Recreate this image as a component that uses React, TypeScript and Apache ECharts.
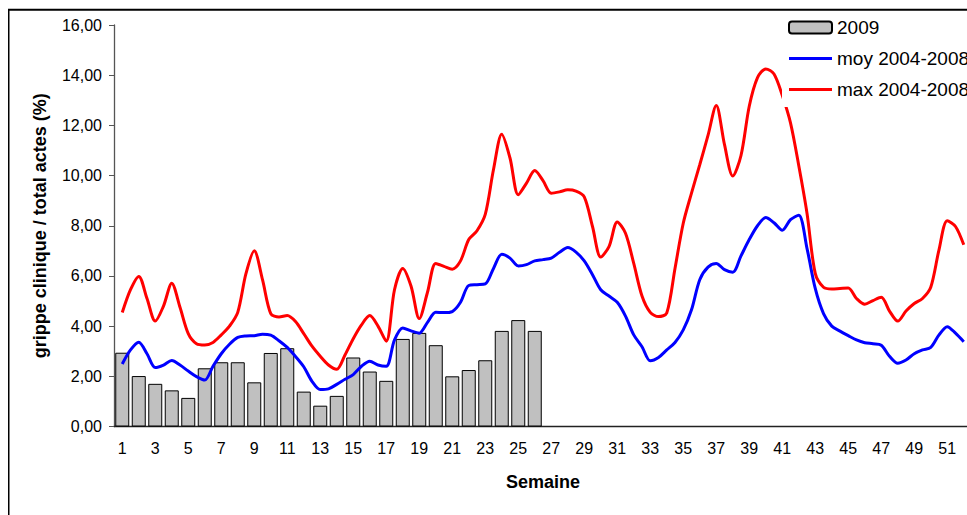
import React, { useEffect, useRef } from "react";
import * as echarts from "echarts";

const weekLabels = Array.from({ length: 52 }, (_, i) => String(i + 1));

const bars2009 = [
  2.94, 2.01, 1.7, 1.44, 1.14, 2.32, 2.56, 2.56, 1.76, 2.93, 3.12, 1.39, 0.83,
  1.22, 2.75, 2.19, 1.82, 3.49, 3.73, 3.24, 2.0, 2.25, 2.64, 3.81, 4.24, 3.81,
];

// half-week resolution, weeks 1, 1.5, 2, ... 52
const moy = [
  2.49, 3.05, 3.36, 2.9, 2.35, 2.45, 2.63, 2.45, 2.21, 1.99,
  1.85, 2.4, 2.9, 3.28, 3.55, 3.61, 3.62, 3.68, 3.64, 3.42,
  3.15, 2.79, 2.38, 1.8, 1.47, 1.5, 1.68, 1.88, 2.07, 2.4,
  2.6, 2.45, 2.4, 3.45, 3.93, 3.81, 3.72, 4.15, 4.55, 4.54,
  4.58, 4.95, 5.62, 5.65, 5.68, 6.3, 6.86, 6.71, 6.4, 6.45,
  6.6, 6.65, 6.71, 6.94, 7.13, 6.95, 6.6, 6.05, 5.45, 5.2,
  4.95, 4.4, 3.65, 3.18, 2.62, 2.75, 3.05, 3.35, 3.85, 4.65,
  5.85, 6.35, 6.5, 6.25, 6.15, 6.8, 7.45, 8.0, 8.33, 8.12,
  7.82, 8.24, 8.42, 7.1, 5.5, 4.5, 4.0, 3.8, 3.62, 3.45,
  3.34, 3.3, 3.24, 2.8, 2.52, 2.65, 2.9, 3.05, 3.15, 3.65,
  3.98, 3.72, 3.38,
];

const max = [
  4.54, 5.45, 5.98, 5.1, 4.2, 4.8, 5.71, 4.75, 3.7, 3.3,
  3.25, 3.35, 3.65, 4.0, 4.55, 6.1, 7.0, 5.85, 4.5, 4.36,
  4.42, 4.18, 3.7, 3.2, 2.8, 2.45, 2.28, 2.85, 3.5, 4.05,
  4.42, 4.0, 3.4, 5.45, 6.3, 5.6, 4.3, 5.35, 6.5, 6.38,
  6.27, 6.6, 7.45, 7.8, 8.45, 10.24, 11.65, 10.7, 9.24, 9.7,
  10.2, 9.8, 9.3, 9.35, 9.43, 9.38, 9.15, 7.97, 6.75, 7.17,
  8.15, 7.7, 6.5, 5.2, 4.55, 4.38, 4.52, 6.3, 8.1, 9.3,
  10.43, 11.6, 12.79, 11.23, 9.98, 10.8, 12.76, 13.9, 14.25, 14.05,
  13.2, 12.1, 10.4, 8.5, 6.1, 5.55, 5.48, 5.5, 5.52, 5.1,
  4.87, 5.02, 5.15, 4.6, 4.2, 4.6, 4.9, 5.1, 5.55, 7.04,
  8.2, 7.97, 7.24,
];

const halfWeeks = moy.map((_, i) => 1 + i * 0.5);

const FONT = "'Liberation Sans', Arial, sans-serif";
const LINE_ICON = "path://M0,0 L43,0 L43,3 L0,3 Z";

export default function App() {
  const ref = useRef<HTMLDivElement>(null);
  useEffect(() => {
    document.documentElement.style.overflow = "hidden";
    const chart = echarts.init(ref.current!, null, { renderer: "svg" });
    chart.setOption({
      animation: false,
      textStyle: { fontFamily: FONT, color: "#000" },
      graphic: [
        {
          type: "rect",
          shape: { x: 0.5, y: 1.8, width: 1400, height: 1000 },
          style: { fill: "none", stroke: "#000", lineWidth: 2 },
          z: 0,
        },
      ],
      legend: {
        orient: "vertical",
        left: 774,
        top: 4,
        padding: [6, 6, 8, 6],
        backgroundColor: "#fff",
        itemWidth: 43,
        itemHeight: 12,
        itemGap: 12,
        textStyle: { fontFamily: FONT, fontSize: 19, color: "#000" },
        data: [
          { name: "2009" },
          { name: "moy 2004-2008", icon: LINE_ICON, itemStyle: { color: "#0000FF" } },
          { name: "max 2004-2008", icon: LINE_ICON, itemStyle: { color: "#FF0000" } },
        ],
        z: 10,
      },
      grid: { left: 106, top: 17, width: 858, height: 401.5 },
      xAxis: [
        {
          type: "category",
          data: weekLabels,
          boundaryGap: true,
          name: "Semaine",
          nameLocation: "middle",
          nameGap: 46,
          nameTextStyle: { fontFamily: FONT, fontSize: 18, fontWeight: "bold", color: "#000" },
          axisLine: { lineStyle: { color: "#222", width: 1.3 } },
          axisTick: { interval: 0, length: 5, lineStyle: { color: "#222" } },
          axisLabel: { interval: 1, margin: 14, fontSize: 16, color: "#000", fontFamily: FONT },
          splitLine: { show: false },
        },
        {
          type: "value",
          min: 0.5,
          max: 52.5,
          show: false,
          position: "bottom",
        },
      ],
      yAxis: {
        type: "value",
        min: 0,
        max: 16,
        interval: 2,
        name: "grippe clinique / total actes (%)",
        nameLocation: "middle",
        nameGap: 65,
        nameTextStyle: { fontFamily: FONT, fontSize: 18, fontWeight: "bold", color: "#000" },
        axisLine: { show: true, lineStyle: { color: "#555", width: 1.3 } },
        axisTick: { show: true, length: 5, lineStyle: { color: "#555" } },
        axisLabel: {
          margin: 12,
          fontSize: 16,
          color: "#000",
          fontFamily: FONT,
          formatter: (v: number) => v.toFixed(2).replace(".", ","),
        },
        splitLine: { show: false },
      },
      series: [
        {
          name: "2009",
          type: "bar",
          xAxisIndex: 0,
          data: bars2009,
          barWidth: 14,
          itemStyle: { color: "#C0C0C0", borderColor: "#000", borderWidth: 1 },
          z: 2,
        },
        {
          name: "moy 2004-2008",
          type: "line",
          xAxisIndex: 1,
          data: halfWeeks.map((w, i) => [w, moy[i]]),
          symbol: "none",
          showSymbol: false,
          smooth: 0.3,
          lineStyle: { color: "#0000FF", width: 3 },
          itemStyle: { color: "#0000FF" },
          z: 3,
        },
        {
          name: "max 2004-2008",
          type: "line",
          xAxisIndex: 1,
          data: halfWeeks.map((w, i) => [w, max[i]]),
          symbol: "none",
          showSymbol: false,
          smooth: 0.3,
          lineStyle: { color: "#FF0000", width: 3 },
          itemStyle: { color: "#FF0000" },
          z: 3,
        },
      ],
    });
    return () => chart.dispose();
  }, []);
  return (
    <div
      style={{
        position: "fixed",
        left: 8,
        top: 8,
        width: 959,
        height: 507,
        overflow: "hidden",
        background: "#fff",
      }}
    >
      <div ref={ref} style={{ width: 1000, height: 520 }} />
    </div>
  );
}
